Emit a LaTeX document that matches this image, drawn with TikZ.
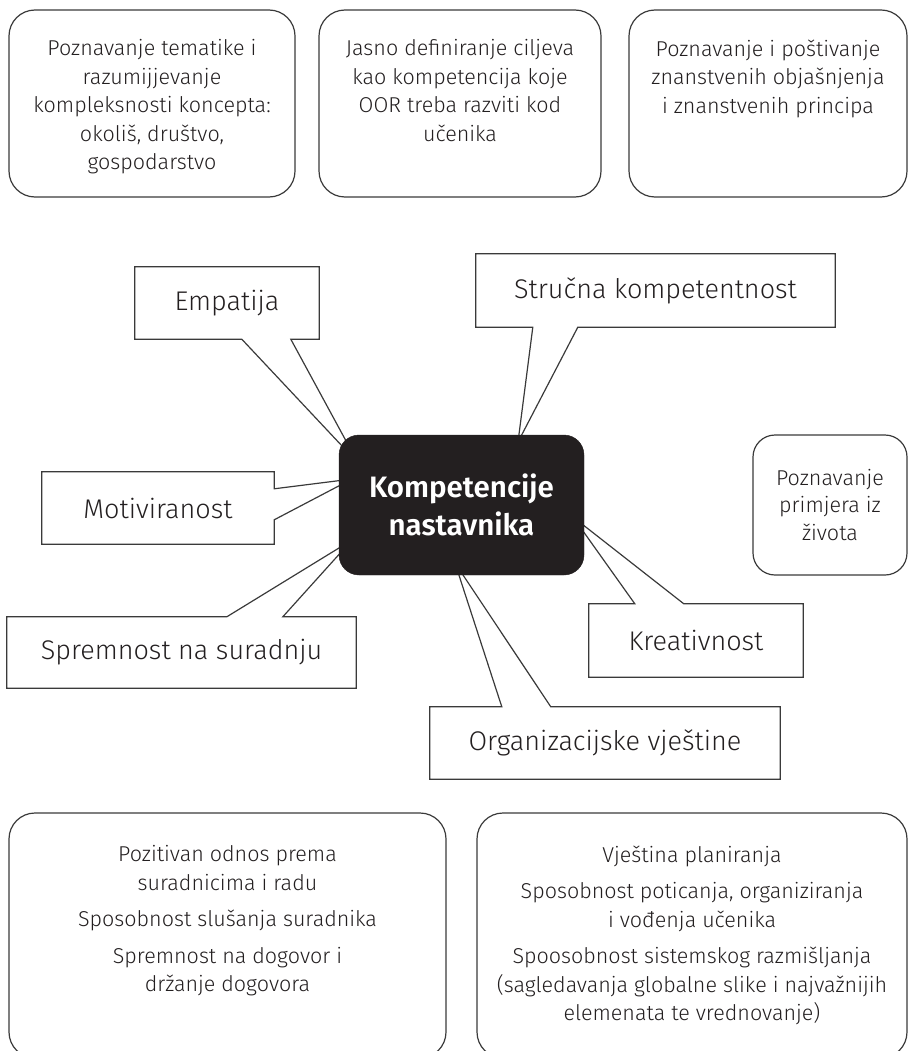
\documentclass[tikz,border=0pt]{standalone}
\usepackage{fontspec}
\setmainfont{Fira Sans Light}[BoldFont={Fira Sans SemiBold}]
\usepackage{tikz}
\usetikzlibrary{positioning}
\definecolor{inkgrey}{RGB}{35, 31, 32}
\definecolor{edgegrey}{RGB}{58, 58, 58}

\begin{document}
\begin{tikzpicture}[x=1pt, y=-1pt,
  roundbox/.style={draw=edgegrey, line width=1.2pt, rounded corners=26pt, inner sep=0pt},
  boxtext/.style={align=center, inner sep=0pt, text=inkgrey, font=\fontsize{21.5}{28.5}\selectfont},
  calltext/.style={inner sep=0pt, text=inkgrey, font=\fontsize{27}{32}\selectfont},
  callline/.style={draw=edgegrey, line width=1.2pt, line join=miter},
  hub/.style={fill=inkgrey, draw=inkgrey, rounded corners=20pt, inner sep=0pt, align=center,
    text=white, font=\fontsize{29.5}{38}\selectfont\bfseries}
]
  \useasboundingbox (0,0) rectangle (909,1051);

  % top row
  \node[roundbox, minimum width=286pt, minimum height=187pt] (topA) at (152, 103.5) {};
  \node[roundbox, minimum width=282pt, minimum height=187pt] (topB) at (460, 103.5) {};
  \node[roundbox, minimum width=278pt, minimum height=187pt] (topC) at (768, 103.5) {};
  \node[boxtext, below=30pt of topA.north] (topAtext) {Poznavanje tematike i\\razumijjevanje\\kompleksnosti koncepta:\\okoliš, društvo,\\gospodarstvo};
  \node[boxtext, below=30pt of topB.north] (topBtext) {Jasno definiranje ciljeva\\kao kompetencija koje\\OOR treba razviti kod\\učenika};
  \node[boxtext, below=30pt of topC.north] (topCtext) {Poznavanje i poštivanje\\znanstvenih objašnjenja\\i znanstvenih principa};

  % callouts
  \node[calltext, minimum width=184pt, minimum height=72pt] (emp) at (227, 303) {Empatija};
  \node[calltext, minimum width=359pt, minimum height=73pt] (stru) at (655.5, 290.5) {Stručna kompetentnost};
  \node[calltext, minimum width=232pt, minimum height=72pt] (mot) at (158, 508) {Motiviranost};
  \node[calltext, minimum width=349pt, minimum height=71pt] (spr) at (181.5, 652.5) {Spremnost na suradnju};
  \node[calltext, minimum width=214pt, minimum height=73pt] (kre) at (696, 640.5) {Kreativnost};
  \node[calltext, minimum width=350pt, minimum height=72pt] (org) at (605, 743) {Organizacijske vještine};

  \coordinate (empTip) at (358, 463);
  \coordinate (struTip) at (518, 442);
  \coordinate (motTip) at (352, 479);
  \coordinate (sprTip) at (352, 540);
  \coordinate (kreTip) at (573, 517);
  \coordinate (orgTip) at (455, 563);

  \draw[callline] (emp.north west) -- (emp.north east) -- (emp.south east)
    -- ([xshift=156pt]emp.south west) -- (empTip) -- ([xshift=107pt]emp.south west) -- (emp.south west) -- cycle;
  \draw[callline] (stru.north west) -- (stru.north east) -- (stru.south east)
    -- ([xshift=102pt]stru.south west) -- (struTip) -- ([xshift=57pt]stru.south west) -- (stru.south west) -- cycle;
  \draw[callline] (mot.north west) -- (mot.north east) -- ([yshift=-17pt]mot.north east) -- (motTip)
    -- ([yshift=-48pt]mot.north east) -- (mot.south east) -- (mot.south west) -- cycle;
  \draw[callline] (spr.north west) -- ([xshift=220pt]spr.north west) -- (sprTip)
    -- ([xshift=276pt]spr.north west) -- (spr.north east) -- (spr.south east) -- (spr.south west) -- cycle;
  \draw[callline] (kre.north west) -- ([xshift=46pt]kre.north west) -- (kreTip)
    -- ([xshift=95pt]kre.north west) -- (kre.north east) -- (kre.south east) -- (kre.south west) -- cycle;
  \draw[callline] (org.north west) -- ([xshift=72pt]org.north west) -- (orgTip)
    -- ([xshift=121pt]org.north west) -- (org.north east) -- (org.south east) -- (org.south west) -- cycle;

  % centre
  \node[hub, minimum width=245pt, minimum height=140pt] (hub) at (461.5, 505) {Kompetencije\\nastavnika};
  \node[roundbox, rounded corners=22pt, minimum width=154pt, minimum height=140pt, align=center,
    text=inkgrey, font=\fontsize{21.5}{27.5}\selectfont] (life) at (830, 505) {Poznavanje\\primjera iz\\života};

  % bottom row
  \node[roundbox, minimum width=437pt, minimum height=245pt] (botA) at (227.5, 935.5) {};
  \node[roundbox, minimum width=430pt, minimum height=245pt] (botB) at (692, 935.5) {};
  \node[boxtext, below=33pt of botA.north] (botAtext) {Pozitivan odnos prema\\suradnicima i radu\\[8pt]Sposobnost slušanja suradnika\\[8pt]Spremnost na dogovor i\\držanje dogovora};
  \node[boxtext, below=33pt of botB.north] (botBtext) {Vještina planiranja\\[8pt]Sposobnost poticanja, organiziranja\\i vođenja učenika\\[8pt]Spoosobnost sistemskog razmišljanja\\(sagledavanja globalne slike i najvažnijih\\elemenata te vrednovanje)};
\end{tikzpicture}
\end{document}
